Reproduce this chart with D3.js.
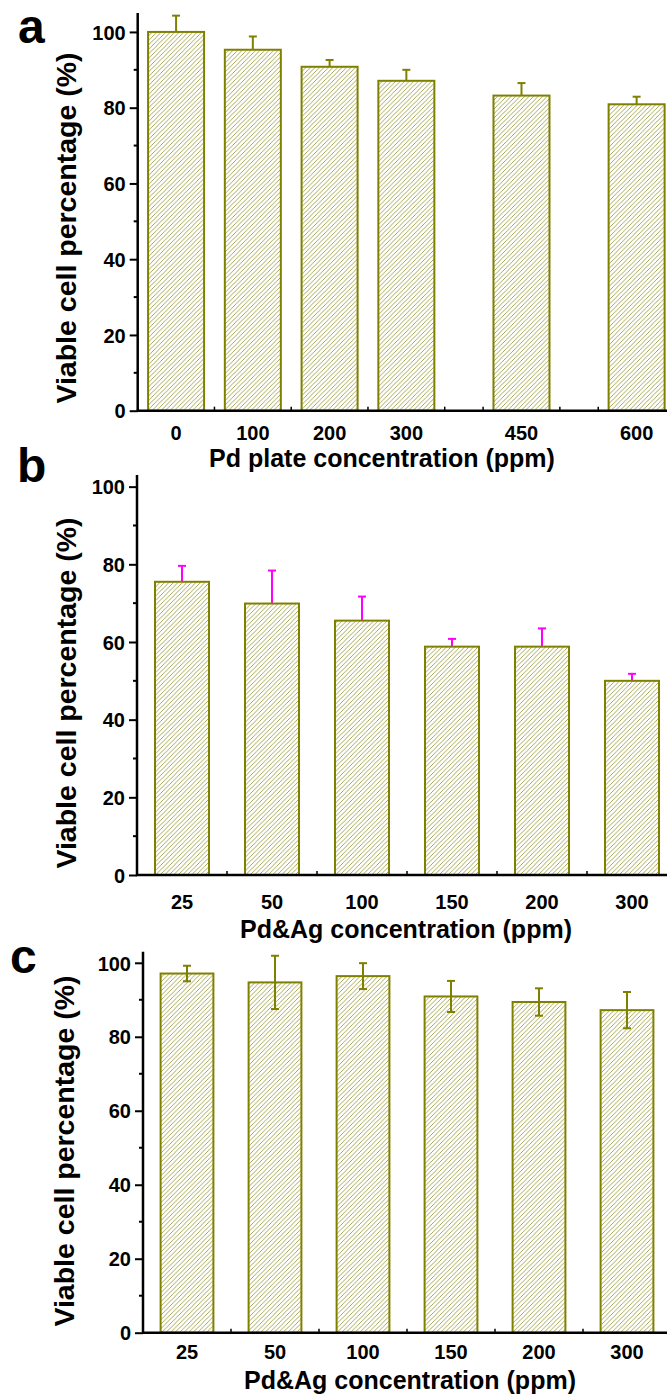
<!DOCTYPE html>
<html>
<head>
<meta charset="utf-8">
<script src="https://cdn.jsdelivr.net/npm/d3@7"></script>
<style>
	body { margin: 0; background: #fff; }
	svg text { font-family: "Liberation Sans", Arial, sans-serif; font-weight: bold; fill: #000; }
</style>
</head>
<body>
<svg id="chart" width="667" height="1397"></svg>
<script>
// panel a: Pd plate
const concA = [0, 100, 200, 300, 450, 600];
const viableA = [100, 95.3, 90.8, 87.1, 83.2, 80.9];
const errA = [4.3, 3.5, 1.8, 2.9, 3.3, 2.0];

// panel b: Pd&Ag
const concB = ["25", "50", "100", "150", "200", "300"];
const viableB = [75.5, 69.9, 65.5, 58.8, 58.8, 50.0];
const errB = [4.1, 8.5, 6.2, 2.0, 4.7, 1.8];

// panel c: Pd&Ag
const concC = ["25", "50", "100", "150", "200", "300"];
const viableC = [97.1, 94.7, 96.4, 90.9, 89.4, 87.2];
const errC = [2.1, 7.2, 3.5, 4.2, 3.7, 4.9];

const yTicks = [0, 20, 40, 60, 80, 100];
const yMinorTicks = [10, 30, 50, 70, 90];

const OLIVE = "#808000";
const svg = d3.select("#chart");

// hatch pattern used by all bars
const defs = svg.append("defs");
const pat = defs.append("pattern")
	.attr("id", "hatch")
	.attr("patternUnits", "userSpaceOnUse")
	.attr("width", 4.5)
	.attr("height", 4.5);
pat.append("rect").attr("width", 4.5).attr("height", 4.5).attr("fill", "#fff");
pat.append("path")
	.attr("d", "M-1,1 l2,-2 M0,4.5 l4.5,-4.5 M3.5,5.5 l2,-2")
	.attr("stroke", "#8a8a1c")
	.attr("stroke-width", 0.75);

function drawPanel(cfg) {
	const g = svg.append("g");
	const y = d3.scaleLinear().domain([0, cfg.yMax]).range([cfg.bottom, cfg.top]);

	let x, barW, centers, minor;
	if (cfg.numeric) {
		x = d3.scaleLinear().domain([-50, 650]).range([cfg.left, cfg.right]);
		barW = cfg.barW;
		centers = cfg.cats.map(c => x(c));
		minor = d3.range(-50, 651, 50).map(v => x(v));
	} else {
		x = d3.scaleBand().domain(cfg.cats).range([cfg.left, cfg.right])
			.paddingInner(0.4).paddingOuter(0.2);
		barW = x.bandwidth();
		centers = cfg.cats.map(c => x(c) + barW / 2);
		minor = d3.range(0, cfg.cats.length + 1).map(i => centers[0] - x.step() / 2 + i * x.step());
	}

	// small x ticks pointing up, behind the bars
	g.selectAll(".xminor").data(minor).enter()
		.append("line")
		.attr("x1", d => d).attr("x2", d => d)
		.attr("y1", cfg.bottom).attr("y2", cfg.bottom - 4)
		.attr("stroke", "#000").attr("stroke-width", 1.5);

	const rows = cfg.values.map((v, i) => ({cx: centers[i], v: v, e: cfg.errs[i]}));

	// error bars
	const eg = g.selectAll(".err").data(rows).enter().append("g");
	eg.append("line")
		.attr("x1", d => d.cx).attr("x2", d => d.cx)
		.attr("y1", d => y(d.v))
		.attr("y2", d => y(d.v + d.e))
		.attr("stroke", cfg.errColor).attr("stroke-width", 2);
	eg.append("line")
		.attr("x1", d => d.cx - 4).attr("x2", d => d.cx + 4)
		.attr("y1", d => y(d.v + d.e)).attr("y2", d => y(d.v + d.e))
		.attr("stroke", cfg.errColor).attr("stroke-width", 2);

	// bars
	g.selectAll(".bar").data(rows).enter()
		.append("rect")
		.attr("x", d => d.cx - barW / 2)
		.attr("y", d => y(d.v))
		.attr("width", barW)
		.attr("height", d => cfg.bottom - y(d.v))
		.attr("fill", "url(#hatch)")
		.attr("stroke", OLIVE)
		.attr("stroke-width", 2);

	// lower error half drawn over the hatch
	if (cfg.errDown) {
		g.selectAll(".errlow").data(rows).enter().append("g")
			.call(s => {
				s.append("line")
					.attr("x1", d => d.cx).attr("x2", d => d.cx)
					.attr("y1", d => y(d.v - d.e)).attr("y2", d => y(d.v))
					.attr("stroke", cfg.errColor).attr("stroke-width", 2);
				s.append("line")
					.attr("x1", d => d.cx - 4).attr("x2", d => d.cx + 4)
					.attr("y1", d => y(d.v - d.e)).attr("y2", d => y(d.v - d.e))
					.attr("stroke", cfg.errColor).attr("stroke-width", 2);
			});
	}

	// y axis
	const yAxis = d3.axisLeft(y).tickValues(yTicks).tickSize(8).tickPadding(4).tickFormat(d3.format("d"));
	const ya = g.append("g").attr("transform", `translate(${cfg.left},0)`).call(yAxis);
	ya.select(".domain").attr("d", `M0,${cfg.top}V${cfg.bottom}`).attr("stroke-width", 2.5);
	ya.selectAll(".tick line").attr("stroke-width", 2);
	ya.selectAll(".tick text").style("font-size", "20px").attr("dy", "0.36em");
	ya.selectAll(".yminor").data(yMinorTicks).enter()
		.append("line")
		.attr("x1", -4).attr("x2", 0)
		.attr("y1", d => y(d)).attr("y2", d => y(d))
		.attr("stroke", "#000").attr("stroke-width", 2);

	// x axis line
	g.append("line")
		.attr("x1", cfg.left - 1).attr("x2", 667)
		.attr("y1", cfg.bottom).attr("y2", cfg.bottom)
		.attr("stroke", "#000").attr("stroke-width", 2.5);

	// x tick labels
	g.selectAll(".xlab").data(cfg.cats).enter()
		.append("text")
		.attr("x", (d, i) => centers[i])
		.attr("y", cfg.labY)
		.attr("text-anchor", "middle")
		.style("font-size", "20px")
		.text(d => d);

	// axis titles
	g.append("text")
		.attr("x", cfg.titleX).attr("y", cfg.titleY)
		.attr("text-anchor", "middle")
		.style("font-size", "25px")
		.text(cfg.xTitle);
	g.append("text")
		.attr("transform", `translate(${cfg.yTitleX},${cfg.yTitleY}) rotate(-90)`)
		.attr("text-anchor", "middle")
		.style("font-size", "28.5px")
		.text("Viable cell percentage (%)");

	// panel letter
	g.append("text")
		.attr("x", cfg.letterX).attr("y", cfg.letterY)
		.style("font-size", "48px")
		.text(cfg.letter);
}

drawPanel({
	letter: "a", letterX: 18, letterY: 43,
	numeric: true, cats: concA, values: viableA, errs: errA, barW: 56,
	left: 137.7, right: 675, top: 13, bottom: 410.7, yMax: 105,
	errColor: OLIVE, errDown: false,
	labY: 440, titleX: 382, titleY: 467, xTitle: "Pd plate concentration (ppm)",
	yTitleX: 76, yTitleY: 228
});

drawPanel({
	letter: "b", letterX: 17, letterY: 482,
	numeric: false, cats: concB, values: viableB, errs: errB,
	left: 137, right: 677, top: 475, bottom: 875, yMax: 103,
	errColor: "#ff00ff", errDown: false,
	labY: 909, titleX: 406, titleY: 938, xTitle: "Pd&Ag concentration (ppm)",
	yTitleX: 76, yTitleY: 693
});

drawPanel({
	letter: "c", letterX: 10, letterY: 973,
	numeric: false, cats: concC, values: viableC, errs: errC,
	left: 143, right: 671, top: 951.7, bottom: 1332.7, yMax: 103,
	errColor: OLIVE, errDown: true,
	labY: 1359, titleX: 410, titleY: 1389, xTitle: "Pd&Ag concentration (ppm)",
	yTitleX: 74, yTitleY: 1151
});
</script>
</body>
</html>
